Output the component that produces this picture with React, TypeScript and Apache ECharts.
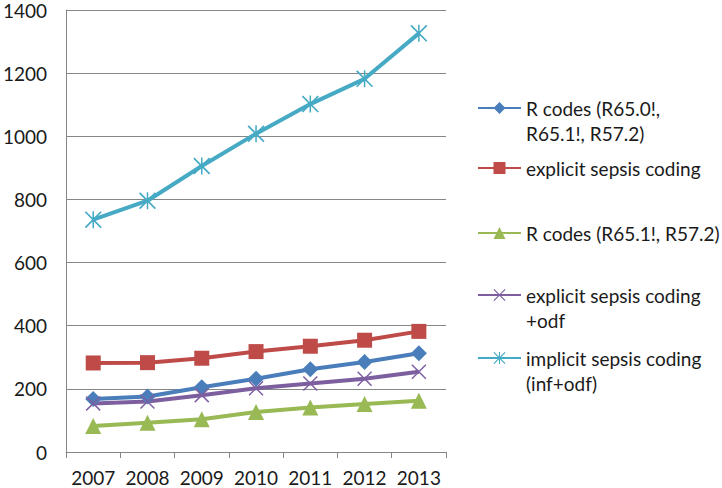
import React, { useEffect, useRef } from "react";
import * as echarts from "echarts";

const years = ["2007", "2008", "2009", "2010", "2011", "2012", "2013"];
const rCodesAll = [168, 176, 205, 232, 262, 285, 313];
const explicitCoding = [282, 283, 297, 318, 335, 354, 382];
const rCodesSub = [82, 93, 104, 127, 141, 152, 162];
const explicitOdf = [154, 160, 180, 202, 217, 232, 254];
const implicitCoding = [736, 796, 906, 1008, 1102, 1182, 1326];

const names = [
  "R codes (R65.0!,\nR65.1!, R57.2)",
  "explicit sepsis coding",
  "R codes (R65.1!, R57.2)",
  "explicit sepsis coding\n+odf",
  "implicit sepsis coding\n(inf+odf)",
];
const colors = ["#4A7EBB", "#BE4B48", "#98B954", "#7D5FA0", "#46AAC5"];

const X_PATH = "path://M0,0.7 L0.7,0 L10,9.3 L9.3,10 Z M0.7,10 L0,9.3 L9.3,0 L10,0.7 Z";
const STAR_PATH =
  "path://M0,0.7 L0.7,0 L10,9.3 L9.3,10 Z M0.7,10 L0,9.3 L9.3,0 L10,0.7 Z M4.55,0 L5.45,0 L5.45,10 L4.55,10 Z";

const FONT = "Lato";
const LH = 25;

export default function App() {
  const ref = useRef<HTMLDivElement>(null);
  useEffect(() => {
    if (!ref.current) return;
    const chart = echarts.init(ref.current, null, { renderer: "svg" });
    const seriesData = [rCodesAll, explicitCoding, rCodesSub, explicitOdf, implicitCoding];
    const symbols = ["diamond", "rect", "triangle", X_PATH, STAR_PATH];
    const sizes = [16, 15, 16, 15, 17];
    const legendIconY = [108, 168, 233, 295, 358];
    const twoLine = [true, false, false, true, true];
    const legends = names.map((n, i) => ({
      data: [n],
      orient: "vertical",
      left: 477,
      top: twoLine[i] ? legendIconY[i] - 1.5 * LH : legendIconY[i] - LH / 2,
      padding: 0,
      itemWidth: 43,
      itemHeight: 15,
      itemGap: 0,
      formatter: (name: string) => (name.indexOf("\n") >= 0 ? " \n" + name : name),
      textStyle: {
        fontFamily: FONT,
        fontSize: 19,
        color: "#1a1a1a",
        lineHeight: LH,
      },
    }));
    chart.setOption({
      animation: false,
      textStyle: { fontFamily: FONT },
      grid: { left: 62, right: 276, top: 10, bottom: 36, containLabel: false },
      legend: legends,
      xAxis: {
        type: "category",
        data: years,
        boundaryGap: true,
        axisLine: { lineStyle: { color: "#868686", width: 1 } },
        axisTick: { show: true, length: 6, lineStyle: { color: "#868686" } },
        axisLabel: {
          interval: 0,
          fontFamily: FONT,
          fontSize: 19,
          lineHeight: 18,
          color: "#1a1a1a",
          margin: 16,
        },
      },
      yAxis: {
        type: "value",
        min: 0,
        max: 1400,
        interval: 200,
        axisLine: { show: true, lineStyle: { color: "#868686", width: 1 } },
        axisTick: { show: false },
        splitLine: { lineStyle: { color: "#868686", width: 1 } },
        axisLabel: {
          fontFamily: FONT,
          fontSize: 19,
          color: "#1a1a1a",
          margin: 19,
          formatter: (v: number) => String(v),
        },
      },
      series: seriesData.map((d, i) => ({
        name: names[i],
        type: "line",
        data: d,
        symbol: symbols[i],
        symbolSize: sizes[i],
        showSymbol: true,
        lineStyle: { color: colors[i], width: 4 },
        itemStyle: { color: colors[i] },
        emphasis: { disabled: true },
      })),
    });
    return () => chart.dispose();
  }, []);
  return (
    <div
      ref={ref}
      style={{ position: "fixed", left: 0, top: 0, width: 722, height: 488, background: "#fff" }}
    />
  );
}
